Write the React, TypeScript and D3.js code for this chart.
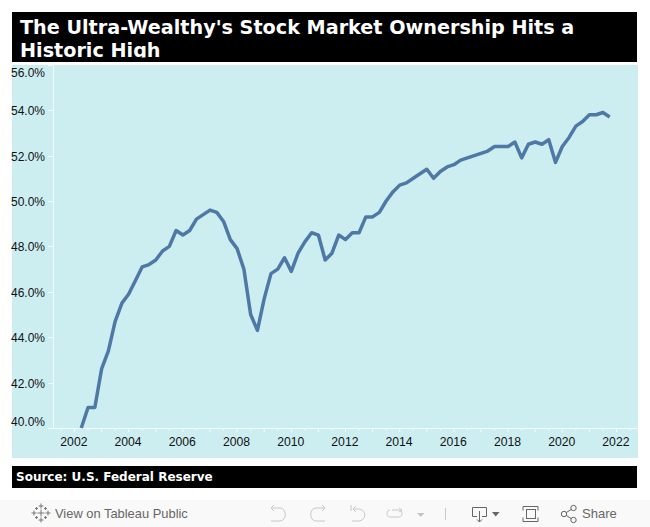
import React from "react";
import * as d3 from "d3";

const W = 650;
const H = 527;
const TITLE_LINES = ["The Ultra-Wealthy's Stock Market Ownership Hits a", "Historic High"];
const SOURCE = "Source: U.S. Federal Reserve";
const Y_TICKS = [40, 42, 44, 46, 48, 50, 52, 54, 56];
const X_TICKS = [2002, 2004, 2006, 2008, 2010, 2012, 2014, 2016, 2018, 2020, 2022];
const START_YEAR = 2002.25;
const OWNERSHIP = [
  40.0, 40.9, 40.9, 42.6, 43.4, 44.7, 45.5, 45.9, 46.5, 47.1, 47.2, 47.4, 47.8, 48.0, 48.7, 48.5,
  48.7, 49.2, 49.4, 49.6, 49.5, 49.1, 48.3, 47.9, 47.0, 45.0, 44.3, 45.7, 46.8, 47.0, 47.5, 46.9,
  47.7, 48.2, 48.6, 48.5, 47.4, 47.7, 48.5, 48.3, 48.6, 48.6, 49.3, 49.3, 49.5, 50.0, 50.4, 50.7,
  50.8, 51.0, 51.2, 51.4, 51.0, 51.3, 51.5, 51.6, 51.8, 51.9, 52.0, 52.1, 52.2, 52.4, 52.4, 52.4,
  52.6, 51.9, 52.5, 52.6, 52.5, 52.7, 51.7, 52.4, 52.8, 53.3, 53.5, 53.8, 53.8, 53.9, 53.7,
];

const x = d3.scaleLinear().domain([2002, 2022]).range([74.5, 616.5]);
const y = d3.scaleLinear().domain([40, 56]).range([428, 64.8]);
const line = d3
  .line<number>()
  .x((_, i) => x(START_YEAR + i * 0.25))
  .y((d) => y(d));

const minorTicks = d3.range(2001.5, 2022.6, 0.5).filter((t) => !Number.isInteger(t));
const majorTicks = d3.range(2002, 2023, 1);
const LOGO_CROSSES: [number, number, number][] = [
  [0, 0, 3.5],
  [0, -7, 2.5],
  [0, 7, 2.5],
  [-7, 0, 2.5],
  [7, 0, 2.5],
  [-4.5, -4.5, 1.5],
  [4.5, -4.5, 1.5],
  [-4.5, 4.5, 1.5],
  [4.5, 4.5, 1.5],
];

const ARIAL = "'Liberation Sans', Arial, sans-serif";
const DEJAVU = "'DejaVu Sans', Verdana, sans-serif";

export default function App() {
  return (
    <svg
      width={W}
      height={H}
      viewBox={`0 0 ${W} ${H}`}
      style={{ position: "absolute", left: 0, top: 0, display: "block", background: "#fff" }}
    >
      <defs>
        <clipPath id="titleClip">
          <rect x={12} y={12} width={625} height={45.5} />
        </clipPath>
      </defs>
      <rect x={12} y={12} width={625} height={50} fill="#000" />
      <g clipPath="url(#titleClip)">
        {TITLE_LINES.map((t, i) => (
          <text key={t} x={20} y={33.5 + i * 23} fill="#fff" fontFamily={DEJAVU} fontWeight="bold" fontSize={19.2}>
            {t}
          </text>
        ))}
      </g>

      <rect x={12} y={65} width={626} height={393} fill="#cdeef1" />
      <line x1={53.5} x2={53.5} y1={65} y2={428} stroke="#f4fbfb" />
      <line x1={48} x2={638} y1={428.5} y2={428.5} stroke="#f4fbfb" />
      {Y_TICKS.map((t) => (
        <line key={t} x1={48} x2={53} y1={Math.round(y(t)) + 0.5} y2={Math.round(y(t)) + 0.5} stroke="#f4fbfb" />
      ))}
      {majorTicks.map((t) => (
        <line key={t} x1={x(t)} x2={x(t)} y1={428} y2={432} stroke="#f4fbfb" />
      ))}
      {minorTicks.map((t) => (
        <line key={t} x1={x(t)} x2={x(t)} y1={428} y2={430.5} stroke="#f4fbfb" />
      ))}
      {Y_TICKS.map((t) => {
        const cy = t === 56 ? 72.5 : t === 40 ? 421.5 : y(t) + 0.7;
        return (
          <text key={t} x={45} y={cy} dy="0.35em" textAnchor="end" fontFamily={ARIAL} fontSize={12} fill="#111">
            {d3.format(".1f")(t)}%
          </text>
        );
      })}
      {X_TICKS.map((t) => (
        <text key={t} x={x(t) - 0.6} y={446} textAnchor="middle" fontFamily={ARIAL} fontSize={12.2} fill="#111">
          {t}
        </text>
      ))}
      <path
        d={line(OWNERSHIP) ?? ""}
        fill="none"
        stroke="#4e79a7"
        strokeWidth={3.5}
        strokeLinejoin="round"
        strokeLinecap="butt"
      />

      <rect x={12} y={466} width={625} height={22} fill="#000" />
      <text x={16} y={481} fill="#fff" fontFamily={DEJAVU} fontWeight="bold" fontSize={12}>
        {SOURCE}
      </text>

      <rect x={0} y={500} width={650} height={27} fill="#f9f9f9" />
      <g stroke="#777" strokeWidth={1} fill="none" transform="translate(41,513)">
        {LOGO_CROSSES.map(([cx, cy, r]) => (
          <path key={`${cx},${cy}`} d={`M${cx - r},${cy}H${cx + r}M${cx},${cy - r}V${cy + r}`} />
        ))}
      </g>
      <text x={55} y={518} fontFamily={ARIAL} fontSize={12.9} fill="#666">
        View on Tableau Public
      </text>
      <g stroke="#c8c8c8" strokeWidth={1} fill="none">
        <path d="M271,508H280C287,508 287,521 280,521H271M274,505L271,508L274,511" />
        <path d="M325,508H316C309,508 309,521 316,521H325M322,505L325,508L322,511" />
        <path d="M351,505V511M354,509H358C367,509 367,521 358,521H352M356,506L353,509L356,512" />
        <path d="M392,510H399C403,510 403,517 399,517H390C386,517 386,510 390,510M399,508L402,510L399,512" />
        <path d="M445.500,508V520" />
      </g>
      <path d="M417,513h7.500l-3.750,4z" fill="#c4c4c4" />
      <g stroke="#666" strokeWidth={1} fill="none">
        <path d="M477,516.500H472.500V507.500H486.500V516.500H482M479.500,511V522M477,519.500l2.500,2.500l2.500,-2.500" />
        <path d="M523,510.500V506.500H538V510.500M523,517.500V521.500H538V517.500" />
        <rect x={526.500} y={509.500} width={9} height={9} />
        <circle cx={573.500} cy={508} r={2.7} />
        <circle cx={564} cy={514} r={2.7} />
        <circle cx={573.500} cy={520} r={2.7} />
        <path d="M571.200,509.500L566.300,512.500M566.300,515.500L571.200,518.500" />
      </g>
      <path d="M492,512h7.500l-3.750,4.500z" fill="#666" />
      <text x={582} y={518} fontFamily={ARIAL} fontSize={13} fill="#666">
        Share
      </text>
    </svg>
  );
}
